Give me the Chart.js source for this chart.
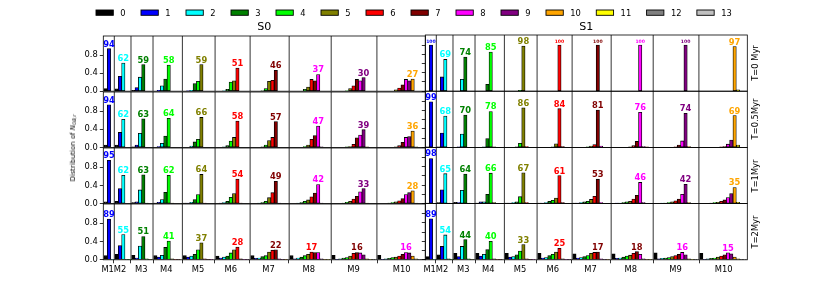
<!DOCTYPE html>
<html><head><meta charset="utf-8">
<script src="https://cdn.jsdelivr.net/npm/chart.js@4.4.0/dist/chart.umd.min.js"></script>
<style>
html,body{margin:0;padding:0;background:#fff;}
body{width:830px;height:297px;position:relative;overflow:hidden;font-family:"DejaVu Sans";}
canvas{position:absolute;}
.txt{position:absolute;font-family:"DejaVu Sans";color:#000;white-space:nowrap;line-height:1;}
</style></head><body>
<script>
// ---------------- data ----------------
const STATE_LABELS = ['0','1','2','3','4','5','6','7','8','9','10','11','12','13'];
const GROUP_LABELS = ['M1','M2','M3','M4','M5','M6','M7','M8','M9','M10'];
const Y_TICKS = [0, 0.2, 0.4, 0.6, 0.8, 1.0];
const COLUMN_TITLES = ['S0', 'S1'];
const ROW_TITLES = ['T=0 Myr', 'T=0.5Myr', 'T=1Myr', 'T=2Myr'];

// distribution per group (index = state 0..n)
const S0_T0 = [
 [0.06,0.94,0],
 [0.05,0.33,0.62,0,0],
 [0.02,0.08,0.31,0.59,0,0],
 [0,0.02,0.12,0.27,0.58,0,0,0],
 [0,0.01,0.02,0.17,0.22,0.59,0,0,0],
 [0,0,0.01,0.04,0.20,0.23,0.51,0,0,0],
 [0,0,0,0.01,0.06,0.22,0.24,0.46,0,0,0],
 [0,0,0,0,0.04,0.09,0.26,0.23,0.37,0,0,0],
 [0,0,0,0,0.01,0.06,0.12,0.26,0.23,0.30,0,0,0],
 [0,0,0,0,0,0.03,0.07,0.14,0.26,0.23,0.27,0,0,0]
];
const S0_T05 = [
 [0.05,0.94,0],
 [0.05,0.33,0.62,0,0],
 [0.01,0.05,0.31,0.63,0,0],
 [0,0.02,0.09,0.25,0.64,0,0,0],
 [0,0,0.03,0.12,0.18,0.66,0,0,0],
 [0,0,0.01,0.04,0.14,0.22,0.58,0,0,0],
 [0,0,0,0.01,0.05,0.15,0.22,0.57,0,0,0],
 [0,0,0,0,0.02,0.05,0.18,0.26,0.47,0.01,0,0],
 [0,0,0,0,0.01,0.02,0.07,0.21,0.27,0.39,0.01,0,0],
 [0,0,0,0,0,0.01,0.04,0.11,0.22,0.24,0.36,0.01,0,0]
];
const S0_T1 = [
 [0.04,0.95,0],
 [0.05,0.33,0.62,0,0],
 [0.02,0.04,0.30,0.63,0.01,0],
 [0.01,0.03,0.09,0.25,0.62,0.01,0,0],
 [0.01,0.01,0.03,0.09,0.20,0.64,0.01,0,0],
 [0,0.01,0.02,0.05,0.14,0.22,0.54,0.01,0,0],
 [0,0,0.01,0.02,0.05,0.13,0.24,0.49,0.01,0,0],
 [0,0,0.01,0.02,0.05,0.08,0.15,0.23,0.42,0.01,0,0],
 [0,0,0,0.01,0.03,0.05,0.10,0.16,0.26,0.33,0.01,0,0],
 [0,0,0,0.01,0.02,0.04,0.06,0.11,0.20,0.24,0.28,0.01,0,0]
];
const S0_T2 = [
 [0.09,0.89,0.01],
 [0.12,0.31,0.55,0.01,0.01],
 [0.10,0.04,0.30,0.51,0.02,0.01],
 [0.09,0.06,0.10,0.27,0.41,0.02,0.01,0.01],
 [0.09,0.06,0.08,0.12,0.22,0.37,0.02,0.01,0.01],
 [0.08,0.04,0.06,0.08,0.15,0.22,0.28,0.02,0.01,0.01],
 [0.09,0.03,0.04,0.07,0.09,0.17,0.21,0.22,0.02,0.01,0.01],
 [0.09,0.02,0.04,0.06,0.09,0.12,0.17,0.16,0.16,0.02,0.01,0.01],
 [0.10,0.01,0.02,0.04,0.05,0.08,0.14,0.16,0.15,0.11,0.02,0.01,0.01],
 [0.10,0.01,0.02,0.03,0.05,0.06,0.08,0.12,0.16,0.15,0.08,0.02,0.01,0.01]
];
const S1_T0 = [
 [0,1.00,0],
 [0,0.31,0.69,0,0],
 [0,0,0.26,0.74,0,0],
 [0,0,0,0.15,0.85,0,0,0],
 [0,0,0,0,0.02,0.98,0,0,0],
 [0,0,0,0,0,0,1.00,0,0,0],
 [0,0,0,0,0,0,0,1.00,0,0,0],
 [0,0,0,0,0,0,0,0,1.00,0,0,0],
 [0,0,0,0,0,0,0,0,0,1.00,0,0,0],
 [0,0,0,0,0,0,0,0,0,0,0.97,0.03,0,0]
];
const S1_T05 = [
 [0.01,0.99,0],
 [0.01,0.31,0.68,0,0],
 [0,0.01,0.29,0.70,0,0],
 [0,0,0.01,0.19,0.78,0.01,0,0],
 [0,0,0,0.01,0.09,0.86,0.02,0,0],
 [0,0,0,0,0.01,0.08,0.84,0.02,0,0],
 [0,0,0,0,0.01,0.03,0.06,0.81,0.03,0,0],
 [0,0,0,0,0,0.01,0.04,0.13,0.76,0.02,0.01,0],
 [0,0,0,0,0,0,0.01,0.05,0.14,0.74,0.02,0,0],
 [0,0,0,0,0,0,0.01,0.02,0.07,0.16,0.69,0.05,0,0]
];
const S1_T1 = [
 [0.01,0.98,0],
 [0.02,0.30,0.65,0.01,0],
 [0.03,0.02,0.29,0.64,0.01,0],
 [0.01,0.04,0.04,0.20,0.66,0.02,0,0],
 [0.01,0.01,0.02,0.04,0.15,0.67,0.02,0,0],
 [0.01,0.01,0.02,0.05,0.07,0.12,0.61,0.02,0,0],
 [0.01,0.01,0.02,0.04,0.05,0.09,0.16,0.53,0.02,0,0],
 [0,0.01,0.01,0.02,0.04,0.05,0.10,0.18,0.46,0.02,0,0],
 [0,0,0.01,0.01,0.02,0.04,0.06,0.10,0.20,0.42,0.02,0,0],
 [0,0,0,0.01,0.02,0.03,0.05,0.08,0.13,0.22,0.35,0.03,0,0]
];
const S1_T2 = [
 [0.07,0.89,0.01],
 [0.11,0.29,0.54,0.02,0.01],
 [0.14,0.07,0.29,0.44,0.02,0.01],
 [0.14,0.08,0.12,0.22,0.40,0.02,0.01,0.01],
 [0.14,0.06,0.07,0.11,0.19,0.33,0.02,0.01,0.01],
 [0.14,0.04,0.05,0.09,0.12,0.17,0.25,0.02,0.01,0.01],
 [0.13,0.04,0.05,0.07,0.09,0.14,0.16,0.17,0.02,0.01,0.01],
 [0.13,0.03,0.04,0.06,0.08,0.10,0.14,0.18,0.12,0.02,0.01,0.01],
 [0.15,0.02,0.03,0.04,0.05,0.07,0.09,0.12,0.16,0.11,0.02,0.01,0.01],
 [0.14,0.01,0.02,0.03,0.04,0.06,0.08,0.11,0.15,0.13,0.06,0.02,0.01,0.01]
];

// ---------------- layout / style ----------------
const STATE_COLORS = ['#000000','#0000ff','#00ffff','#008000','#00ff00','#808000','#ff0000','#800000','#ff00ff','#800080','#ffa500','#ffff00','#808080','#c0c0c0'];
const PANELS = [[S0_T0, S1_T0],[S0_T05, S1_T05],[S0_T1, S1_T1],[S0_T2, S1_T2]];
const COL_LEFT = [103.3, 425.3];
const ROW_TOP = [35, 91.2, 147.4, 203.6];
const PANEL_W = 322, PANEL_H = 56.2;
const X_MAX = 96.5;
const GROUP_START = [0, 3.3, 8.3, 14.9, 23.7, 33.5, 44, 55.7, 68.3, 82];
const BAR_OFFSET = 0.2;
const TICK_POS = [1.3, 5.0, 11.4, 18.9, 28.4, 38.2, 49.5, 61.6, 75.0, 89.4];
const Y_MAX = 1.22;
const FONT = 'DejaVu Sans';
const FS = 8.33;
const BAR_PX = PANEL_W / X_MAX;
const LEG = { x0: 96, boxTop: 10, boxW: 17.3, boxH: 5.3, textGap: 7, baseline: 15.7, itemGap: 15.4 };

function makePanelPlugin(panel){
  return {
    id: 'panelDecor',
    beforeDatasetsDraw(chart){
      const {ctx, chartArea:a, scales:{x}} = chart;
      ctx.save();
      ctx.strokeStyle = '#000'; ctx.lineWidth = 0.8;
      for (let g = 1; g < GROUP_START.length; g++){
        const px = x.getPixelForValue(GROUP_START[g]);
        ctx.beginPath(); ctx.moveTo(px, a.top); ctx.lineTo(px, a.bottom); ctx.stroke();
      }
      ctx.restore();
    },
    afterDatasetsDraw(chart){
      const {ctx, chartArea:a, scales:{x, y}} = chart;
      ctx.save();
      panel.forEach((vals, g) => {
        let j = 0;
        vals.forEach((v, s) => { if (v > vals[j]) j = s; });
        const v = vals[j];
        const txt = String(Math.round(v * 100));
        const px = x.getPixelForValue(GROUP_START[g] + BAR_OFFSET + j + 0.5);
        const py = y.getPixelForValue(v) - 2;
        ctx.font = 'bold ' + (txt.length > 2 ? 4.6 : FS) + 'px "' + FONT + '"';
        ctx.textAlign = 'center'; ctx.textBaseline = 'alphabetic';
        ctx.fillStyle = STATE_COLORS[j];
        ctx.fillText(txt, px, py);
      });
      ctx.strokeStyle = '#000'; ctx.lineWidth = 0.8;
      ctx.strokeRect(a.left, a.top, a.right - a.left, a.bottom - a.top);
      ctx.restore();
    }
  };
}

function buildDatasets(panel){
  const ds = STATE_LABELS.map((lab, s) => ({
    label: lab, data: [], backgroundColor: STATE_COLORS[s], borderColor: '#000',
    borderWidth: 0.8, borderSkipped: false, grouped: false, barThickness: BAR_PX
  }));
  panel.forEach((vals, g) => vals.forEach((v, s) => {
    ds[s].data.push({x: GROUP_START[g] + BAR_OFFSET + s + 0.5, y: v});
  }));
  return ds;
}

function addCanvas(left, top, w, h){
  const c = document.createElement('canvas');
  c.width = w; c.height = h;
  c.style.left = left + 'px'; c.style.top = top + 'px';
  c.style.width = w + 'px'; c.style.height = h + 'px';
  document.body.appendChild(c);
  return c;
}

PANELS.forEach((row, r) => row.forEach((panel, col) => {
  const isBottom = r === PANELS.length - 1;
  const colLeft = COL_LEFT[col], rowTop = ROW_TOP[r];
  const cl = Math.floor(colLeft) - 40;
  const leftSpace = colLeft - cl;
  const ct = Math.floor(rowTop) - 6;
  const padTop = rowTop - ct;
  const w = Math.ceil(colLeft + PANEL_W + 6 - cl);
  const padRight = w - leftSpace - PANEL_W;
  const h = Math.ceil(rowTop + PANEL_H + (isBottom ? 22 : 8) - ct);
  const bottomSpace = h - padTop - PANEL_H;
  const canvas = addCanvas(cl, ct, w, h);
  new Chart(canvas, {
    type: 'bar',
    data: { datasets: buildDatasets(panel) },
    options: {
      responsive: false, animation: false, devicePixelRatio: 1,
      layout: { padding: { left: 0, top: padTop, right: padRight, bottom: 0 } },
      plugins: { legend: { display: false }, tooltip: { enabled: false } },
      scales: {
        x: {
          type: 'linear', min: 0, max: X_MAX, offset: false,
          afterBuildTicks(s){ s.ticks = TICK_POS.map(v => ({value: v})); },
          afterFit(s){ s.height = bottomSpace; },
          grid: { display: isBottom, drawOnChartArea: false, drawTicks: true, tickLength: 3.5, color: '#000', lineWidth: 0.8 },
          border: { display: false },
          ticks: { display: isBottom, autoSkip: false, maxRotation: 0, minRotation: 0, padding: 1.5,
                   font: { family: FONT, size: FS }, color: '#000',
                   callback: (v, i) => GROUP_LABELS[i] }
        },
        y: {
          min: 0, max: Y_MAX,
          afterBuildTicks(s){ s.ticks = Y_TICKS.map(v => ({value: v})); },
          afterFit(s){ s.width = leftSpace; },
          grid: { display: true, drawOnChartArea: false, drawTicks: true, tickLength: 3.5, color: '#000', lineWidth: 0.8 },
          border: { display: false },
          ticks: { display: col === 0, padding: 2, font: { family: FONT, size: FS }, color: '#000',
                   callback: v => Number(v).toFixed(1) }
        }
      }
    },
    plugins: [makePanelPlugin(panel)]
  });
}));

// legend (drawn by a plugin of a scale-less chart)
const legendPlugin = {
  id: 'stateLegend',
  afterDraw(chart){
    const ctx = chart.ctx;
    ctx.save();
    ctx.font = FS + 'px "' + FONT + '"';
    ctx.textAlign = 'left'; ctx.textBaseline = 'alphabetic';
    let x = LEG.x0;
    chart.data.datasets.forEach((d, i) => {
      ctx.fillStyle = d.backgroundColor;
      ctx.fillRect(x, LEG.boxTop, LEG.boxW, LEG.boxH);
      ctx.lineWidth = 0.9; ctx.strokeStyle = '#000';
      ctx.strokeRect(x, LEG.boxTop, LEG.boxW, LEG.boxH);
      ctx.fillStyle = '#000';
      ctx.fillText(d.label, x + LEG.boxW + LEG.textGap, LEG.baseline);
      x += LEG.boxW + LEG.textGap + ctx.measureText(d.label).width + LEG.itemGap;
    });
    ctx.restore();
  }
};
const legendCanvas = addCanvas(0, 0, 830, 24);
new Chart(legendCanvas, {
  type: 'bar',
  data: { datasets: STATE_LABELS.map((lab, s) => ({ label: lab, data: [], backgroundColor: STATE_COLORS[s], borderColor: '#000', borderWidth: 0.8 })) },
  options: {
    responsive: false, animation: false, devicePixelRatio: 1,
    scales: { x: { display: false }, y: { display: false } },
    plugins: { tooltip: { enabled: false }, legend: { display: false } }
  },
  plugins: [legendPlugin]
});

// text overlays
function addText(html, x, y, size, rotate){
  const d = document.createElement('div');
  d.className = 'txt';
  d.innerHTML = html;
  d.style.fontSize = size + 'px';
  d.style.left = x + 'px'; d.style.top = y + 'px';
  d.style.transform = 'translate(-50%,-50%)' + (rotate ? ' rotate(-90deg)' : '');
  document.body.appendChild(d);
}
COLUMN_TITLES.forEach((t, i) => addText(t, COL_LEFT[i] + PANEL_W / 2, 26.7, 11.1, false));
ROW_TITLES.forEach((t, r) => addText(t, 754.5, ROW_TOP[r] + PANEL_H / 2, FS, true));
addText('Distribution of <i>N</i><sub style="font-size:70%;font-style:italic;vertical-align:-0.25em">OB,r</sub>', 74, 148, 6.9, true);
</script>
</body></html>
